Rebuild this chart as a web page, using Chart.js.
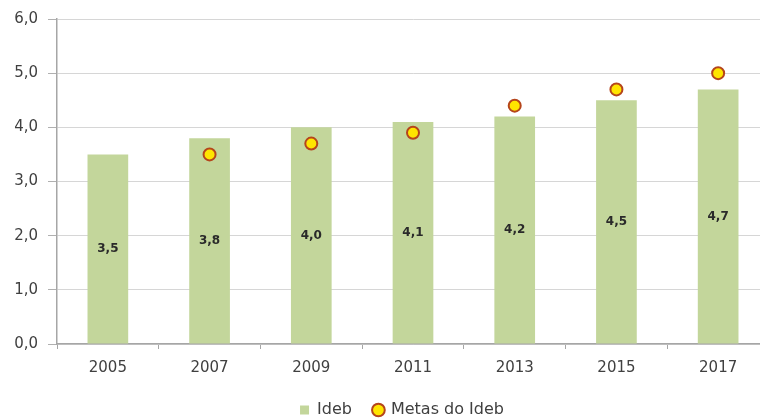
<!DOCTYPE html>
<html>
<head>
<meta charset="utf-8">
<script src="https://cdn.jsdelivr.net/npm/chart.js@4"></script>
<style>
  html, body { margin: 0; padding: 0; background: #ffffff; overflow: hidden; width: 760px; height: 419px; }
  #wrap { width: 804px; height: 430px; }
</style>
</head>
<body>
<div id="wrap"><canvas id="c" width="804" height="430"></canvas></div>
<script>
const categories = ['2005', '2007', '2009', '2011', '2013', '2015', '2017'];
const idebValues = [3.5, 3.8, 4.0, 4.1, 4.2, 4.5, 4.7];
const metasValues = [null, 3.5, 3.7, 3.9, 4.4, 4.7, 5.0];
const yTicks = [0, 1, 2, 3, 4, 5, 6];
const seriesNames = ['Ideb', 'Metas do Ideb'];

const fmt = v => v.toFixed(1).replace('.', ',');
const FONT = "'DejaVu Sans', sans-serif";

const barLabels = {
  id: 'barLabels',
  afterDatasetsDraw(chart) {
    const meta = chart.getDatasetMeta(0);
    const ctx = chart.ctx;
    ctx.save();
    ctx.font = "bold 12px " + FONT;
    ctx.fillStyle = '#2a2a2a';
    ctx.textAlign = 'center';
    ctx.textBaseline = 'middle';
    meta.data.forEach((bar, i) => {
      const v = chart.data.datasets[0].data[i];
      ctx.fillText(fmt(v), bar.x, (bar.y + bar.base) / 2);
    });
    ctx.restore();
  }
};

new Chart(document.getElementById('c'), {
  data: {
    labels: categories,
    datasets: [
      {
        type: 'bar',
        label: seriesNames[0],
        data: idebValues,
        backgroundColor: '#C3D69B',
        borderWidth: 0,
        barPercentage: 0.4,
        categoryPercentage: 1.0,
        order: 2
      },
      {
        type: 'line',
        label: seriesNames[1],
        data: metasValues,
        showLine: false,
        pointRadius: 6,
        pointHoverRadius: 6,
        pointBackgroundColor: '#FFE500',
        pointBorderColor: '#B5451B',
        pointBorderWidth: 2,
        backgroundColor: '#FFE500',
        borderColor: '#B5451B',
        order: 1
      }
    ]
  },
  options: {
    responsive: false,
    animation: false,
    devicePixelRatio: 1,
    layout: { padding: { top: 19, left: 0, right: 0, bottom: 2 } },
    plugins: {
      tooltip: { enabled: false },
      legend: {
        position: 'bottom',
        labels: {
          font: { family: FONT, size: 16 },
          color: '#404040',
          padding: 22,
          boxWidth: 9,
          boxHeight: 9,
          usePointStyle: true,
          generateLabels(chart) {
            return [
              { text: seriesNames[0], fillStyle: '#C3D69B', strokeStyle: '#C3D69B', lineWidth: 0, pointStyle: 'rect', datasetIndex: 0, fontColor: '#404040' },
              { text: seriesNames[1], fillStyle: '#FFE500', strokeStyle: '#B5451B', lineWidth: 2, pointStyle: 'circle', datasetIndex: 1, fontColor: '#404040' }
            ];
          }
        }
      }
    },
    scales: {
      x: {
        offset: true,
        grid: {
          offset: true,
          drawOnChartArea: false,
          drawTicks: true,
          tickLength: 5,
          tickColor: '#A6A6A6'
        },
        border: { color: '#A6A6A6', width: 1.5 },
        ticks: {
          font: { family: FONT, size: 15 },
          color: '#404040',
          padding: 10.5,
          maxRotation: 0
        },
        afterFit(scale) { scale.height = 36; }
      },
      y: {
        min: 0,
        max: 6,
        afterBuildTicks(scale) { scale.ticks = yTicks.map(v => ({ value: v })); },
        grid: {
          color: '#D6D6D6',
          lineWidth: 1,
          tickLength: 9,
          tickColor: '#B0B0B0'
        },
        border: { color: '#A6A6A6', width: 1.5 },
        ticks: {
          font: { family: FONT, size: 15 },
          color: '#404040',
          padding: 10,
          callback: v => fmt(v)
        },
        afterFit(scale) { scale.width = 57; }
      },
      yRight: {
        position: 'right',
        display: true,
        grid: { display: false, drawTicks: false },
        border: { display: false },
        ticks: { display: false },
        afterFit(scale) { scale.width = 35; }
      }
    }
  },
  plugins: [barLabels]
});
</script>
</body>
</html>
